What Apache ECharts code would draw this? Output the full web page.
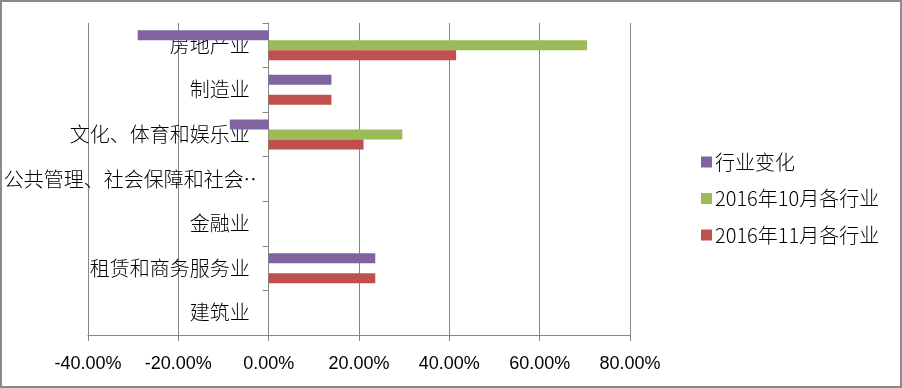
<!DOCTYPE html>
<html>
<head>
<meta charset="utf-8">
<script src="https://cdn.jsdelivr.net/npm/echarts@6/dist/echarts.min.js"></script>
<style>
html,body{margin:0;padding:0;background:#fff;}
#wrap{position:absolute;left:0;top:0;width:898px;height:384px;border:2px solid #8a8a8a;}
#c{position:absolute;left:-2px;top:-2px;width:902px;height:388px;}
</style>
</head>
<body>
<div id="wrap"><div id="c"></div></div>
<script>
var categories = ['房地产业','制造业','文化、体育和娱乐业','公共管理、社会保障和社会…','金融业','租赁和商务服务业','建筑业'];
var seriesNames = ['行业变化','2016年10月各行业','2016年11月各行业'];
var change = [-29.0, 13.9, -8.6, 0, 0, 23.6, 0];
var oct2016 = [70.5, 0, 29.6, 0, 0, 0, 0];
var nov2016 = [41.5, 13.9, 21.0, 0, 0, 23.6, 0];
var xTicks = {min: -40, max: 80, interval: 20};

var gridLeft = 88, gridRight = 272, W = 902;
var zeroOffset = -(W - gridLeft - gridRight) * (0 - xTicks.min) / (xTicks.max - xTicks.min);

var chart = echarts.init(document.getElementById('c'));
var fontCJK = '"Noto Sans CJK SC", sans-serif';
var labelStyle = {fontSize: 20, color: '#000', fontFamily: fontCJK, fontWeight: 300};
chart.setOption({
  animation: false,
  grid: {left: gridLeft, right: gridRight, top: 23, bottom: 53, containLabel: false, outerBoundsMode: 'none'},
  legend: {
    orient: 'vertical', left: 696, top: 147,
    itemWidth: 11, itemHeight: 11, itemGap: 16.5,
    icon: 'rect',
    textStyle: {fontSize: 20, color: '#000', fontFamily: fontCJK, fontWeight: 300, padding: [0,0,0,-2]},
    data: seriesNames
  },
  xAxis: {
    type: 'value', min: xTicks.min, max: xTicks.max, interval: xTicks.interval,
    axisLine: {show: true, lineStyle: {color: '#868686', width: 1}},
    axisTick: {show: true, length: 6, lineStyle: {color: '#868686'}},
    splitLine: {show: true, lineStyle: {color: '#868686', width: 1}},
    axisLabel: {
      margin: 20, fontSize: 18, color: '#000', fontFamily: '"Liberation Sans", sans-serif',
      hideOverlap: false, showMinLabel: true, showMaxLabel: true,
      formatter: function (v) { return v.toFixed(2) + '%'; }
    }
  },
  yAxis: {
    type: 'category', inverse: true, data: categories, offset: zeroOffset, z: 0,
    axisLine: {show: true, onZero: false, lineStyle: {color: '#868686', width: 1}},
    axisTick: {show: true, length: 6, lineStyle: {color: '#868686'}},
    axisLabel: {
      margin: 19, interval: 0, fontSize: 20, color: '#000', fontFamily: fontCJK, fontWeight: 300,
      formatter: function (v) {
        if (v.charAt(v.length - 1) === '…') {
          return '{a|' + v.slice(0, -1) + '}{b|…}';
        }
        return v;
      },
      rich: {
        a: labelStyle,
        b: {fontSize: 20, color: '#000', fontFamily: fontCJK, fontWeight: 300, width: 6, overflow: 'none', align: 'left'}
      }
    }
  },
  series: [
    {name: seriesNames[0], type: 'bar', zlevel: 1, data: change, barWidth: 10, barGap: '0%', itemStyle: {color: '#8064A2'}},
    {name: seriesNames[1], type: 'bar', zlevel: 1, data: oct2016, barWidth: 10, barGap: '0%', itemStyle: {color: '#9BBB59'}},
    {name: seriesNames[2], type: 'bar', zlevel: 1, data: nov2016, barWidth: 10, barGap: '0%', itemStyle: {color: '#C0504D'}}
  ]
});
</script>
</body>
</html>
